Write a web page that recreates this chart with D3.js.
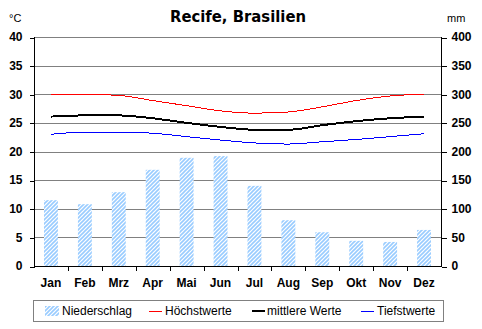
<!DOCTYPE html>
<html>
<head>
<meta charset="utf-8">
<script src="https://cdn.jsdelivr.net/npm/d3@7"></script>
<style>
  html, body { margin: 0; padding: 0; background: #fff; }
  svg { display: block; }
  text { font-family: "Liberation Sans", Arial, sans-serif; fill: #000; }
</style>
</head>
<body>
<svg id="chart" width="482" height="329"></svg>
<script>
// Klimadaten Recife
const months = ["Jan", "Feb", "Mrz", "Apr", "Mai", "Jun", "Jul", "Aug", "Sep", "Okt", "Nov", "Dez"];
const niederschlag = [115, 108, 129, 168, 189, 192, 140, 80, 59, 44, 42, 63];
const hoechstwerte = [29.9, 30.0, 29.8, 28.9, 28.0, 27.1, 26.7, 26.9, 27.8, 28.9, 29.7, 30.0];
const mittlereWerte = [26.1, 26.3, 26.3, 25.8, 25.0, 24.3, 23.8, 23.8, 24.6, 25.3, 25.8, 26.1];
const tiefstwerte = [23.0, 23.4, 23.4, 23.2, 22.6, 22.0, 21.5, 21.3, 21.7, 22.1, 22.6, 23.1];
const tempTicks = [0, 5, 10, 15, 20, 25, 30, 35, 40];
const mmTicks = [0, 50, 100, 150, 200, 250, 300, 350, 400];

const svg = d3.select("#chart");
const plotL = 34, plotR = 441, plotT = 37, plotB = 266;

const x = d3.scaleBand().domain(months).range([plotL, plotR]).paddingInner(0.59).paddingOuter(0.295);
const xc = m => x(m) + x.bandwidth() / 2;
const xEdge = d3.scaleLinear().domain([0, 12]).range([plotL, plotR]);
const yT = d3.scaleLinear().domain([0, 40]).range([plotB, plotT]);
const yP = d3.scaleLinear().domain([0, 400]).range([plotB, plotT]);

// hatch pattern for the precipitation bars
const defs = svg.append("defs");
const pat = defs.append("pattern")
  .attr("id", "hatch").attr("patternUnits", "userSpaceOnUse")
  .attr("width", 4).attr("height", 4);
pat.append("rect").attr("width", 4).attr("height", 4).attr("fill", "#fff");
pat.append("path").attr("d", "M-1,1 l2,-2 M0,4 l4,-4 M3,5 l2,-2")
  .attr("stroke", "#99ccff").attr("stroke-width", 1.6);

// gridlines
svg.append("g").selectAll("line").data(tempTicks.filter(t => t > 0)).join("line")
  .attr("x1", plotL).attr("x2", plotR)
  .attr("y1", d => yT(d) + 0.5).attr("y2", d => yT(d) + 0.5)
  .attr("stroke", "#808080").attr("stroke-width", 1).attr("shape-rendering", "crispEdges");

// precipitation bars
svg.append("g").selectAll("rect").data(months).join("rect")
  .attr("x", d => x(d)).attr("width", x.bandwidth())
  .attr("y", (d, i) => yP(niederschlag[i]))
  .attr("height", (d, i) => plotB - yP(niederschlag[i]))
  .attr("fill", "url(#hatch)");

// axes
const axisFont = g => g.selectAll("text")
  .style("font-family", "'Liberation Sans', Arial, sans-serif")
  .style("font-size", "12px").style("font-weight", "bold").attr("fill", "#000");

const gl = svg.append("g").attr("transform", `translate(${plotL + 0.5},0)`)
  .call(d3.axisLeft(yT).tickValues(tempTicks).tickSize(5).tickPadding(7))
  .call(axisFont);
const gr = svg.append("g").attr("transform", `translate(${plotR + 0.5},0)`)
  .call(d3.axisRight(yP).tickValues(mmTicks).tickSize(5).tickPadding(5))
  .call(axisFont);
[gl, gr].forEach(g => {
  g.select(".domain").attr("d", `M0,${plotT}V${plotB + 0.5}`).attr("stroke", "#000");
  g.selectAll(".tick line").attr("stroke", "#000").attr("transform", "translate(0,0.5)");
  g.selectAll("path, line").attr("shape-rendering", "crispEdges");
});

// x axis: line, boundary ticks and month labels
const gx = svg.append("g");
gx.append("line").attr("x1", plotL).attr("x2", plotR + 1)
  .attr("y1", plotB + 0.5).attr("y2", plotB + 0.5)
  .attr("stroke", "#000").attr("shape-rendering", "crispEdges");
gx.selectAll("line.tick").data(d3.range(1, 12)).join("line").attr("class", "tick")
  .attr("x1", d => Math.round(xEdge(d)) + 0.5).attr("x2", d => Math.round(xEdge(d)) + 0.5)
  .attr("y1", plotB).attr("y2", plotB + 5)
  .attr("stroke", "#000").attr("shape-rendering", "crispEdges");
gx.selectAll("text").data(months).join("text")
  .attr("x", d => xc(d)).attr("y", 287)
  .attr("text-anchor", "middle")
  .style("font-size", "12px").style("font-weight", "bold")
  .text(d => d);

// temperature curves
const line = vals => d3.line()
  .x((d, i) => xc(months[i])).y(d => yT(d))
  .curve(d3.curveMonotoneX)(vals);
const series = [
  { name: "Höchstwerte", vals: hoechstwerte, color: "#ff0000", w: 1 },
  { name: "mittlere Werte", vals: mittlereWerte, color: "#000000", w: 2 },
  { name: "Tiefstwerte", vals: tiefstwerte, color: "#0000ff", w: 1 }
];
svg.append("g").selectAll("path").data(series).join("path")
  .attr("d", d => line(d.vals))
  .attr("fill", "none").attr("stroke", d => d.color).attr("stroke-width", d => d.w)
  .attr("shape-rendering", "crispEdges");

// title and units
svg.append("text").attr("x", 238).attr("y", 22).attr("text-anchor", "middle")
  .style("font-family", "'DejaVu Sans', Verdana, sans-serif")
  .style("font-size", "16px").style("font-weight", "bold")
  .attr("textLength", 136).attr("lengthAdjust", "spacingAndGlyphs")
  .text("Recife, Brasilien");
svg.append("text").attr("x", 9).attr("y", 22).style("font-size", "11px").text("°C");
svg.append("text").attr("x", 447).attr("y", 22).style("font-size", "11px").text("mm");

// legend
const lg = svg.append("g");
lg.append("rect").attr("x", 33.5).attr("y", 300.5).attr("width", 410).attr("height", 21)
  .attr("fill", "#fff").attr("stroke", "#808080").attr("shape-rendering", "crispEdges");
lg.append("rect").attr("x", 45).attr("y", 306).attr("width", 14).attr("height", 10)
  .attr("fill", "url(#hatch)");
lg.append("text").attr("x", 62).attr("y", 315).style("font-size", "12px").text("Niederschlag");
const legendX = [149, 252, 361];
series.forEach((s, i) => {
  lg.append("line").attr("x1", legendX[i]).attr("x2", legendX[i] + 13)
    .attr("y1", 311).attr("y2", 311)
    .attr("stroke", s.color).attr("stroke-width", s.w === 2 ? 2 : 1)
    .attr("shape-rendering", "crispEdges");
  lg.append("text").attr("x", legendX[i] + (i === 1 ? 15 : 16)).attr("y", 315)
    .style("font-size", "12px").text(s.name);
});
</script>
</body>
</html>
